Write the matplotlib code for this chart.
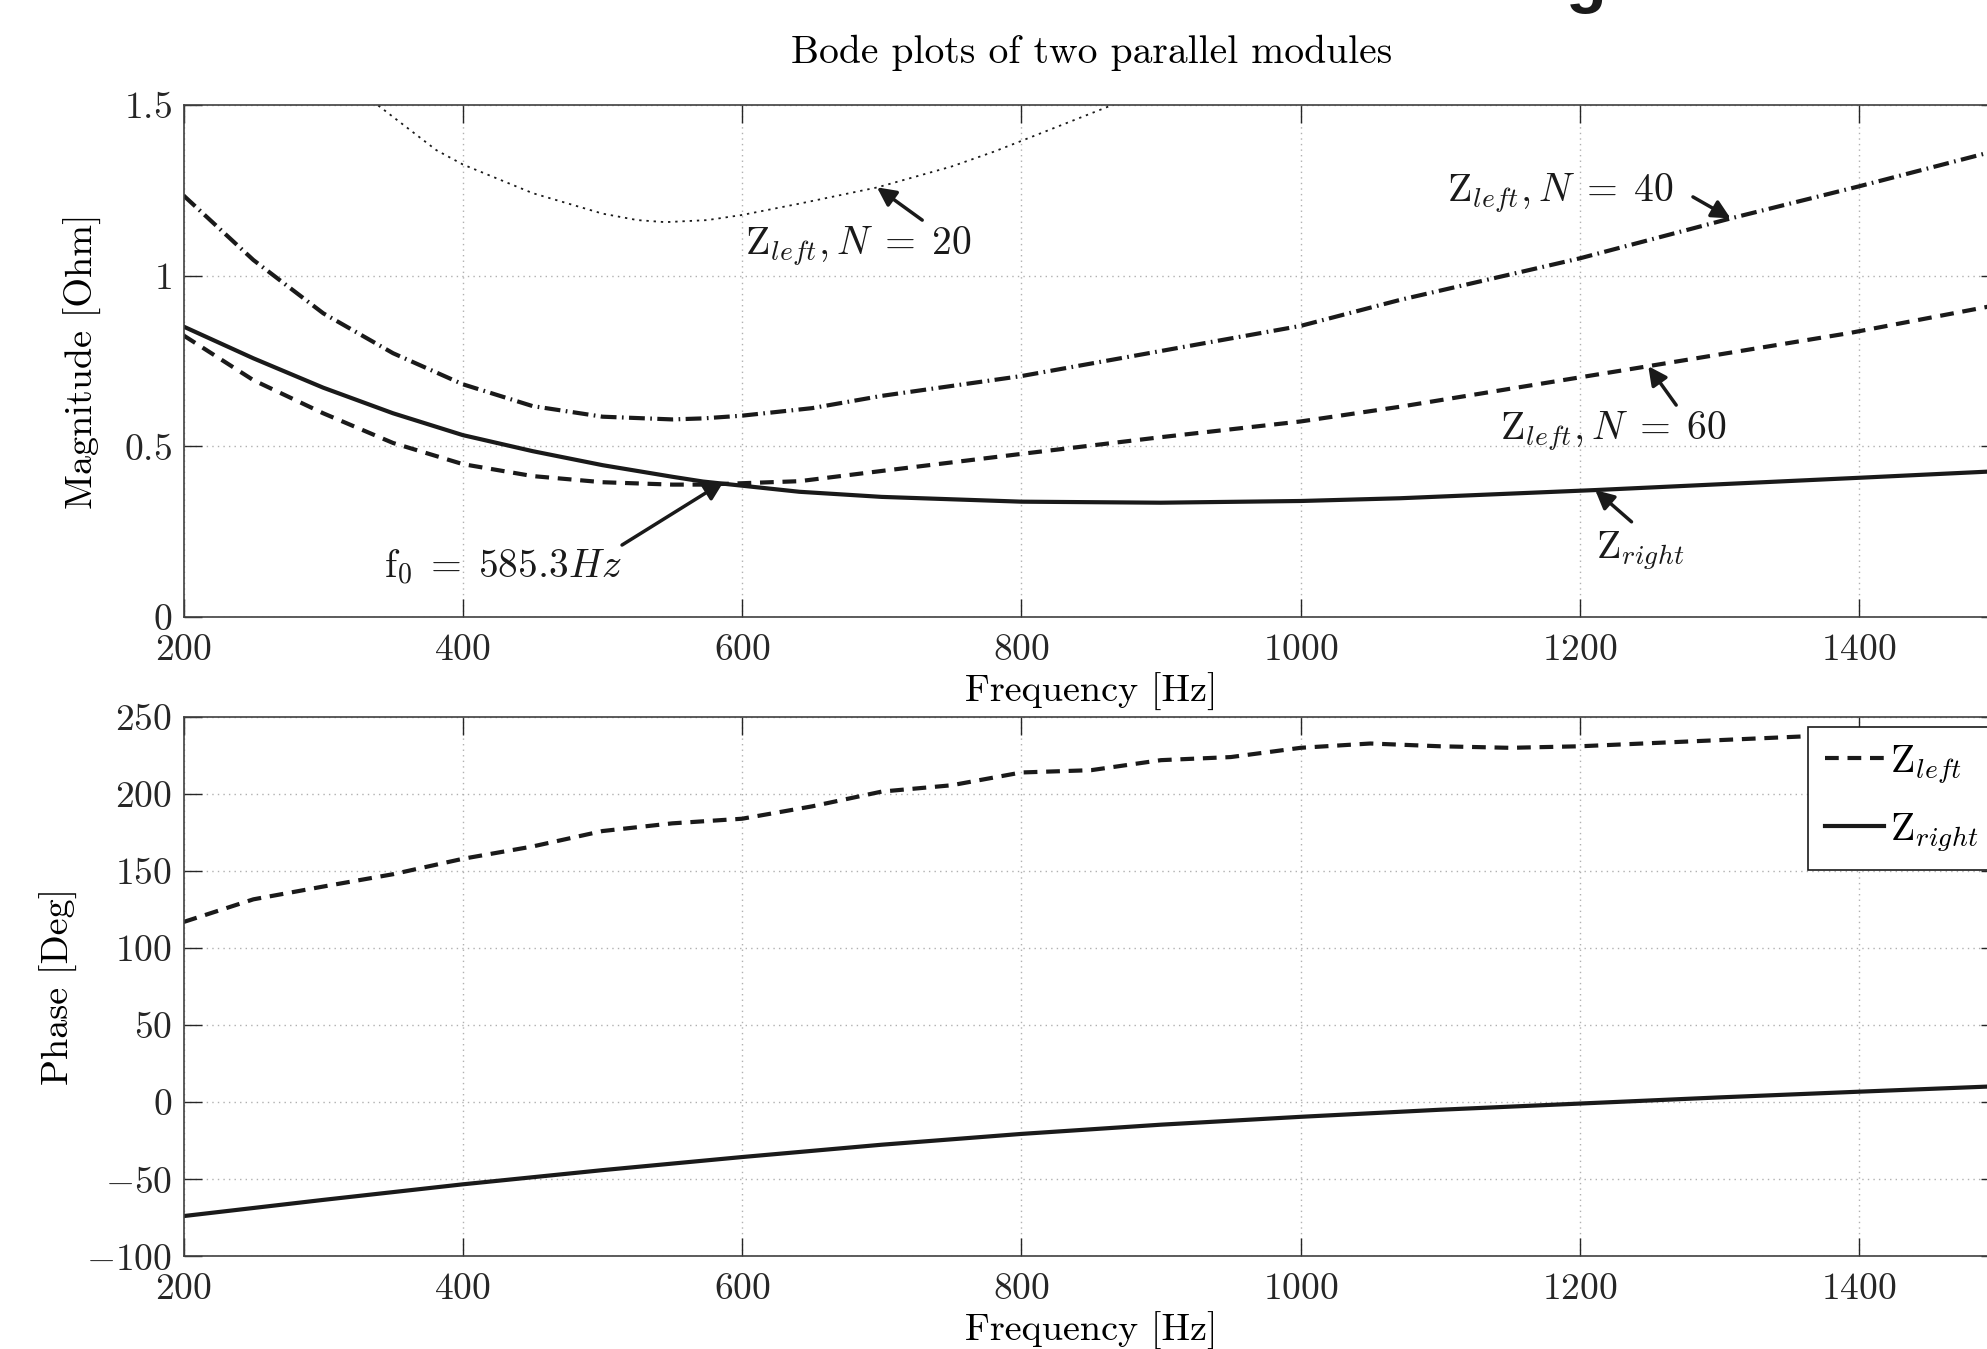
import numpy as np
import matplotlib
matplotlib.use('Agg')
import matplotlib.pyplot as plt
from matplotlib.ticker import FuncFormatter

plt.rcParams['font.family'] = 'serif'
plt.rcParams['font.serif'] = ['cmr10']
plt.rcParams['mathtext.fontset'] = 'cm'
plt.rcParams['axes.formatter.use_mathtext'] = True

# Magnitude curves [Ohm]
f_right = [200, 250, 300, 350, 400, 450, 500, 550, 572, 641, 700, 800, 900, 1000, 1071, 1211, 1300, 1400, 1492, 1500]
mag_right = [0.851, 0.758, 0.672, 0.597, 0.533, 0.486, 0.445, 0.411, 0.397, 0.367, 0.352, 0.338, 0.335, 0.340, 0.348, 0.372, 0.389, 0.408, 0.426, 0.428]

f_n60 = [200, 250, 300, 350, 400, 450, 500, 550, 572, 641, 700, 800, 900, 1000, 1071, 1249, 1393, 1492, 1500]
mag_n60 = [0.825, 0.694, 0.597, 0.510, 0.448, 0.413, 0.395, 0.388, 0.388, 0.398, 0.428, 0.478, 0.527, 0.573, 0.616, 0.735, 0.832, 0.909, 0.915]

f_n40 = [200, 250, 300, 350, 400, 450, 500, 550, 572, 600, 650, 700, 800, 1000, 1071, 1200, 1308, 1400, 1492, 1500]
mag_n40 = [1.235, 1.046, 0.890, 0.773, 0.682, 0.618, 0.587, 0.579, 0.582, 0.590, 0.612, 0.648, 0.706, 0.853, 0.929, 1.051, 1.168, 1.262, 1.360, 1.368]

f_n20 = [200, 250, 300, 339, 381, 400, 450, 500, 525, 545, 575, 600, 642, 697, 750, 780, 800, 865, 900, 950]
mag_n20 = [2.05, 1.83, 1.64, 1.50, 1.368, 1.326, 1.242, 1.182, 1.163, 1.157, 1.163, 1.178, 1.212, 1.259, 1.32, 1.363, 1.395, 1.50, 1.57, 1.67]

# Phase curves [Deg]
f_ph_left = [200, 250, 300, 350, 400, 450, 500, 550, 600, 650, 700, 750, 800, 850, 900, 950, 1000, 1050, 1100, 1150, 1200, 1300, 1400, 1500]
ph_left = [117, 131.7, 140, 148, 158, 166, 176, 181, 184, 192, 201.6, 205.7, 214, 215.5, 222, 224, 230, 232.8, 231, 230, 231, 235, 239, 242]

f_ph_right = [200, 300, 400, 500, 600, 700, 800, 900, 1000, 1100, 1200, 1300, 1400, 1500]
ph_right = [-73.8, -63.3, -53.2, -44.0, -35.5, -27.5, -20.5, -14.5, -9.4, -4.8, -0.8, 3.2, 6.9, 10.5]

title = 'Bode plots of two parallel modules'
fs = 27
fs_txt = 28.5
ink = '#1a1a1a'

fig = plt.figure(figsize=(19.87, 13.49), dpi=100)
ax1 = fig.add_axes([0.0924, 0.5426, 0.9135, 0.3795])
ax2 = fig.add_axes([0.0924, 0.0686, 0.9135, 0.3999])

fmt = FuncFormatter(lambda v, p: '$%g$' % v)

for ax in (ax1, ax2):
    ax.set_xlim(200, 1500)
    ax.set_xticks(range(200, 1600, 200))
    ax.xaxis.set_major_formatter(fmt)
    ax.yaxis.set_major_formatter(fmt)
    ax.grid(True, linestyle=(0, (1, 3)), color='#b0b0b0', lw=1)
    ax.tick_params(direction='in', length=13, width=1, top=True, right=True,
                   labelsize=fs, colors='#262626')
    ax.tick_params(axis='x', pad=12)
    ax.tick_params(axis='y', pad=8.5)
    for s in ax.spines.values():
        s.set_color('#404040')
        s.set_linewidth(1.2)
    ax.set_xlabel('Frequency [Hz]', fontsize=27.5, labelpad=4)

# top: magnitude
ax1.plot(f_n20, mag_n20, color=ink, lw=1.3, linestyle=(0, (1.3, 2.7)))
ax1.plot(f_n40, mag_n40, color=ink, lw=3, linestyle=(0, (3.8, 1.3, 0.4, 1.3)))
ax1.plot(f_n60, mag_n60, color=ink, lw=3, linestyle=(0, (3.3, 2.1)))
ax1.plot(f_right, mag_right, color=ink, lw=3)
ax1.set_ylim(0, 1.5)
ax1.set_yticks([0, 0.5, 1, 1.5])
ax1.set_ylabel('Magnitude [Ohm]', fontsize=27.5, labelpad=16)
ax1.set_title(title, fontsize=fs_txt, pad=30)

arrow = dict(arrowstyle='-|>', lw=2.5, color=ink, mutation_scale=28,
             shrinkA=0, shrinkB=0)
notes = [
    (r'$\mathrm{Z}_{left}, N \;=\; 20$', (683, 1.085), (729, 1.163), (696.6, 1.259)),
    (r'$\mathrm{Z}_{left}, N \;=\; 40$', (1186, 1.242), (1281, 1.231), (1308, 1.168)),
    (r'$\mathrm{Z}_{left}, N \;=\; 60$', (1224, 0.543), (1269, 0.621), (1249, 0.735)),
    (r'$\mathrm{Z}_{right}$', (1243, 0.193), (1237, 0.279), (1211, 0.372)),
    (r'$\mathrm{f}_0 \;=\; 585.3Hz$', (428.5, 0.147), (514, 0.211), (586.7, 0.396)),
]
for txt, pos, tail, head in notes:
    ax1.text(pos[0], pos[1], txt, fontsize=fs_txt, ha='center', va='center', color=ink)
    ax1.annotate('', xy=head, xytext=tail, arrowprops=arrow)

# bottom: phase
ax2.plot(f_ph_left, ph_left, color=ink, lw=3, linestyle=(0, (3.3, 2.1)), label=r'$\mathrm{Z}_{left}\qquad$')
ax2.plot(f_ph_right, ph_right, color=ink, lw=3, label=r'$\mathrm{Z}_{right}\qquad$')
ax2.set_ylim(-100, 250)
ax2.set_yticks(range(-100, 300, 50))
ax2.set_ylabel('Phase [Deg]', fontsize=27.5, labelpad=6)
leg = ax2.legend(loc='upper left', bbox_to_anchor=(0.895, 0.9815), borderaxespad=0,
                 fontsize=fs_txt, fancybox=False, framealpha=1, edgecolor=ink,
                 handlelength=1.5, handletextpad=0.15, labelspacing=0.65,
                 borderpad=0.42)
leg.get_frame().set_linewidth(1.2)

# clipped heading letter at the top edge
fig.text(0.7875, 1.0, 'g', fontsize=48, fontweight='bold', family='Liberation Sans',
         va='baseline', ha='left', color=ink)

fig.savefig('out.png', dpi=100)
